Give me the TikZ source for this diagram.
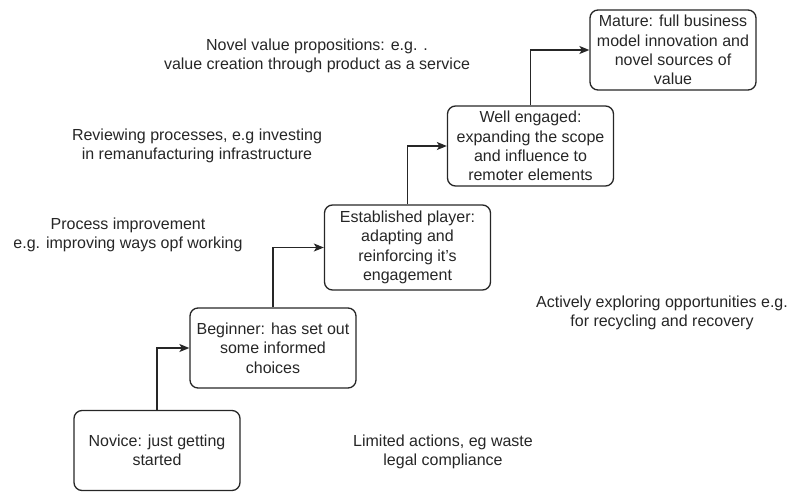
\documentclass[tikz,border=0pt]{standalone}
\usepackage{fontspec}
\setmainfont{Liberation Sans}
\usepackage{tikz}
\usetikzlibrary{arrows.meta}
\definecolor{ink}{rgb}{0.15,0.15,0.15}

\begin{document}
\begin{tikzpicture}[
            x = 1pt, y = -1pt, % pixel grid of the page
            > = {Stealth[length=10pt, width=8pt, inset=2.5pt]}, % arrow head style
            line width = 1.3pt, % line style
            font = \fontsize{16}{19.3}\selectfont
        ]

        \tikzstyle{stage}=[
            draw = ink,
            text = ink,
            rounded corners = 8pt,
            align = center,
            minimum width = 166pt,
            minimum height = 80pt,
            inner sep = 0pt
        ]
        \tikzstyle{note}=[
            text = ink,
            align = center,
            inner sep = 0pt
        ]

        \useasboundingbox (0,0) rectangle (793,491);

        % maturity stages
        \node[stage] (NOV) at (157,450.5) {Novice: just getting\\started};
        \node[stage] (BEG) at (273,348) {Beginner: has set out\\some informed\\choices};
        \node[stage, minimum height = 85pt] (EST) at (407.5,247.5) {Established player:\\adapting and\\reinforcing it's\\engagement};
        \node[stage] (WEL) at (530.5,146) {Well engaged:\\expanding the scope\\and influence to\\remoter elements};
        \node[stage] (MAT) at (673,50) {Mature: full business\\model innovation and\\novel sources of\\value};

        % steps up
        \draw[->, ink] (NOV.north) |- (BEG.west);
        \draw[->, ink] (BEG.north) |- (EST.west);
        \draw[->, ink] (EST.north) |- (WEL.west);
        \draw[->, ink] (WEL.north) |- (MAT.west);

        % actions at each stage
        \node[note] (LIM) at (443,452) {Limited actions, eg waste\\legal compliance};
        \node[note] (ACT) at (662,313) {Actively exploring opportunities e.g.\\for recycling and recovery};
        \node[note] (PRO) at (128,235) {Process improvement\\e.g. improving ways opf working};
        \node[note] (REV) at (197,146) {Reviewing processes, e.g investing\\in remanufacturing infrastructure};
        \node[note] (NVP) at (317,56) {Novel value propositions: e.g. .\\value creation through product as a service};

  \end{tikzpicture}
\end{document}
